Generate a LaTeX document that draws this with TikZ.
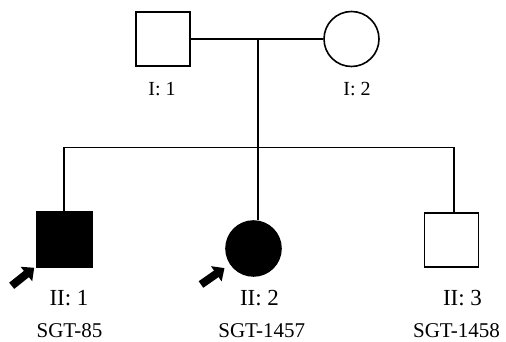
\documentclass[tikz,border=0pt]{standalone}
\usepackage{fontspec}
\setmainfont{Liberation Serif}
\usetikzlibrary{arrows.meta}
\tikzstyle{male} = [draw, rectangle, minimum size=54pt, inner sep=0pt, line width=1.6pt]
\tikzstyle{female} = [draw, circle, minimum size=55pt, inner sep=0pt, line width=1.6pt]
\tikzstyle{affected} = [fill=black]
\tikzstyle{kinship} = [line width=1.6pt]
\tikzstyle{idtext} = [inner sep=0pt]
\tikzstyle{genI} = [idtext, font=\fontsize{20}{24}\selectfont]
\tikzstyle{genII} = [idtext, font=\fontsize{23}{27}\selectfont]
\tikzstyle{sample} = [idtext, font=\fontsize{21}{25}\selectfont]
\tikzstyle{proband} = [line width=8pt, -{Triangle[length=10pt, width=18pt]}]

\begin{document}
\begin{tikzpicture}[x=1pt, y=1pt]
	\useasboundingbox (0,0) rectangle (506,342);
	% generacion I
	\node[male] (I1) at (163,303) {};
	\node[female] (I2) at (351.5,303) {};
	\node[genI] (tI1) at (162,253) {I: 1};
	\node[genI] (tI2) at (357,253) {I: 2};
	% generacion II
	\node[male, affected, minimum size=55pt] (II1) at (64.5,102.5) {};
	\node[female, affected] (II2) at (253.5,93.5) {};
	\node[male] (II3) at (451.5,102) {};
	\node[genII] (tII1) at (69,44) {II: 1};
	\node[genII] (tII2) at (259.5,44) {II: 2};
	\node[genII] (tII3) at (462.5,43.5) {II: 3};
	\node[sample] (sII1) at (69.5,11) {SGT-85};
	\node[sample] (sII2) at (261.7,11) {SGT-1457};
	\node[sample] (sII3) at (456.5,11) {SGT-1458};
	% lineas de parentesco
	\coordinate (mate) at (257.7,303);
	\coordinate (sib) at (257.7,194.5);
	\coordinate (kid1) at (64,194.5);
	\coordinate (kid3) at (454,194.5);
	\draw[kinship] (I1) -- (I2);
	\draw[kinship] (mate) -- (sib);
	\draw[kinship] (kid1) -- (kid3);
	\draw[kinship] (kid1) -- (kid1 |- II1.north);
	\draw[kinship] (sib) -- (sib |- II2.north);
	\draw[kinship] (kid3) -- (kid3 |- II3.north);
	% probandos
	\draw[proband] ([shift={(-24.5,-18)}]II1.south west) -- ([shift={(-2,0)}]II1.south west);
	\draw[proband] ([shift={(-32.5,-16)}]II2.south west) -- ([shift={(-9,0.4)}]II2.south west);
\end{tikzpicture}
\end{document}
